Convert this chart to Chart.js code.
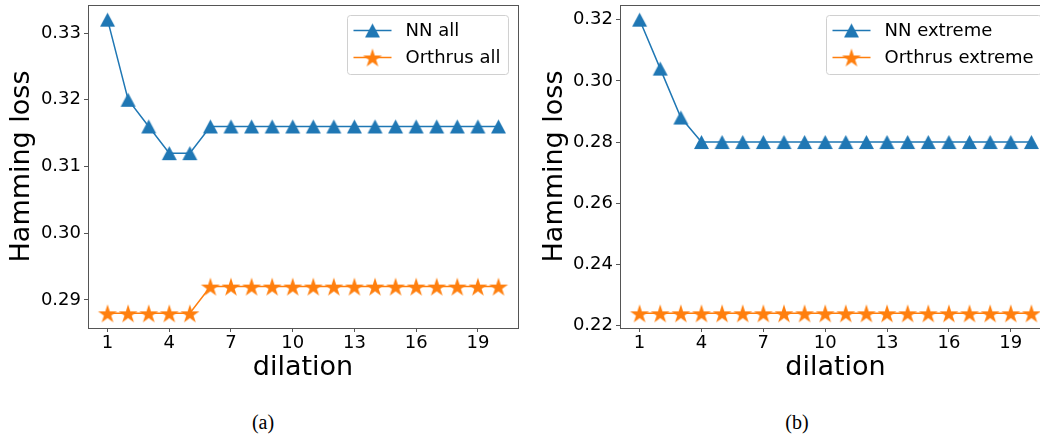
<!DOCTYPE html>
<html>
<head>
<meta charset="utf-8">
<script src="https://cdn.jsdelivr.net/npm/chart.js@4"></script>
<style>
body { margin: 0; background: #fff; width: 1040px; height: 434px; overflow: hidden; position: relative; }
canvas { position: absolute; top: 0; }
#ca { left: 0; }
#cb { left: 520px; }
.cap { position: absolute; top: 410px; width: 60px; text-align: center; font: 20px 'Liberation Serif', serif; line-height: 24px; }
</style>
</head>
<body>
<canvas id="ca" width="520" height="400"></canvas>
<canvas id="cb" width="540" height="400"></canvas>
<div class="cap" style="left:233px">(a)</div>
<div class="cap" style="left:767px">(b)</div>
<script>
var dilation = [1,2,3,4,5,6,7,8,9,10,11,12,13,14,15,16,17,18,19,20];

var nnAll       = [0.332,0.320,0.316,0.312,0.312,0.316,0.316,0.316,0.316,0.316,0.316,0.316,0.316,0.316,0.316,0.316,0.316,0.316,0.316,0.316];
var orthrusAll  = [0.288,0.288,0.288,0.288,0.288,0.292,0.292,0.292,0.292,0.292,0.292,0.292,0.292,0.292,0.292,0.292,0.292,0.292,0.292,0.292];
var nnExt       = [0.320,0.304,0.288,0.280,0.280,0.280,0.280,0.280,0.280,0.280,0.280,0.280,0.280,0.280,0.280,0.280,0.280,0.280,0.280,0.280];
var orthrusExt  = [0.224,0.224,0.224,0.224,0.224,0.224,0.224,0.224,0.224,0.224,0.224,0.224,0.224,0.224,0.224,0.224,0.224,0.224,0.224,0.224];

var xTicks  = [1,4,7,10,13,16,19];
var yTicksA = [0.29,0.30,0.31,0.32,0.33];
var yTicksB = [0.22,0.24,0.26,0.28,0.30,0.32];

var blue = '#1f77b4';
var orange = '#ff7f0e';
var axisColor = '#555';

// marker images (matplotlib-like '^' and '*')
function triImage(color, w, h) {
  var c = document.createElement('canvas');
  c.width = w + 2; c.height = h + 2;
  var g = c.getContext('2d');
  g.beginPath();
  g.moveTo(c.width / 2, 1);
  g.lineTo(c.width - 1, h + 1);
  g.lineTo(1, h + 1);
  g.closePath();
  g.fillStyle = color;
  g.fill();
  return c;
}
function starImage(color, R) {
  var s = Math.ceil(R * 2 + 2);
  var c = document.createElement('canvas');
  c.width = s; c.height = s;
  var g = c.getContext('2d');
  g.beginPath();
  for (var i = 0; i < 10; i++) {
    var r = i % 2 ? R * 0.382 : R;
    var ang = -Math.PI / 2 + i * Math.PI / 5;
    g.lineTo(s / 2 + r * Math.cos(ang), s / 2 + 1 + r * Math.sin(ang));
  }
  g.closePath();
  g.fillStyle = color;
  g.fill();
  return c;
}
var triMark = triImage(blue, 15, 14);
var starMark = starImage(orange, 10);

function pts(ys) {
  return dilation.map(function (x, i) { return { x: x, y: ys[i] }; });
}

var frame = {
  id: 'frame',
  afterDatasetsDraw: function (chart) {
    var a = chart.chartArea, ctx = chart.ctx;
    ctx.save();
    ctx.strokeStyle = axisColor;
    ctx.lineWidth = 1;
    ctx.strokeRect(Math.round(a.left) + 0.5, Math.round(a.top) + 0.5, Math.round(a.right - a.left), Math.round(a.bottom - a.top));
    ctx.restore();
  }
};

var legendBox = {
  id: 'legendBox',
  afterDraw: function (chart) {
    var ctx = chart.ctx, a = chart.chartArea;
    var sets = chart.data.datasets;
    ctx.save();
    ctx.font = "18px 'DejaVu Sans'";
    var tw = 0;
    sets.forEach(function (d) { tw = Math.max(tw, ctx.measureText(d.label).width); });
    var w = 58 + tw + 8, h = 59;
    var x0 = Math.round(a.right - 10 - w) + 0.5, y0 = Math.round(a.top + 10) + 0.5;
    ctx.beginPath();
    ctx.roundRect(x0, y0, w, h, 3);
    ctx.fillStyle = 'rgba(255,255,255,0.8)';
    ctx.fill();
    ctx.strokeStyle = '#d0d0d0';
    ctx.lineWidth = 1;
    ctx.stroke();
    sets.forEach(function (d, i) {
      var cy = y0 + 15 + i * 27;
      ctx.beginPath();
      ctx.moveTo(x0 + 6, cy);
      ctx.lineTo(x0 + 44, cy);
      ctx.strokeStyle = d.borderColor;
      ctx.lineWidth = 1.5;
      ctx.stroke();
      var img = d.pointStyle;
      ctx.drawImage(img, x0 + 25 - img.width / 2, cy - img.height / 2);
      ctx.fillStyle = '#000';
      ctx.textBaseline = 'middle';
      ctx.fillText(d.label, x0 + 58, cy + 1);
    });
    ctx.restore();
  }
};

function makeChart(id, names, series, yMin, yMax, yTicks, yWidth, titlePad, padRight) {
  var marks = [triMark, starMark];
  var colors = [blue, orange];
  return new Chart(document.getElementById(id), {
    type: 'line',
    data: {
      datasets: series.map(function (s, i) {
        return {
          label: names[i],
          data: pts(s),
          borderColor: colors[i],
          backgroundColor: colors[i],
          borderWidth: 1.5,
          pointStyle: marks[i],
          pointRadius: 8,
          tension: 0,
          clip: false
        };
      })
    },
    options: {
      responsive: false,
      animation: false,
      devicePixelRatio: 1,
      events: [],
      layout: { autoPadding: false, padding: { top: 5, right: padRight, bottom: 0, left: 0 } },
      plugins: { legend: { display: false }, tooltip: { enabled: false } },
      scales: {
        x: {
          type: 'linear',
          min: 0.05,
          max: 20.95,
          afterBuildTicks: function (s) { s.ticks = xTicks.map(function (v) { return { value: v }; }); },
          afterFit: function (s) { s.height = 72; s.paddingLeft = 0; s.paddingRight = 0; },
          grid: { drawOnChartArea: false, drawTicks: true, tickLength: 4, color: axisColor, tickColor: axisColor },
          border: { display: false },
          ticks: { color: '#000', padding: 1, maxRotation: 0, autoSkip: false, font: { family: 'DejaVu Sans', size: 18 } },
          title: { display: true, text: 'dilation', color: '#000', padding: { top: 0, bottom: 16 }, font: { family: 'DejaVu Sans', size: 27 } }
        },
        y: {
          min: yMin,
          max: yMax,
          afterBuildTicks: function (s) { s.ticks = yTicks.map(function (v) { return { value: v }; }); },
          afterFit: function (s) { s.width = yWidth; s.paddingTop = 0; s.paddingBottom = 0; },
          grid: { drawOnChartArea: false, drawTicks: true, tickLength: 4, color: axisColor, tickColor: axisColor },
          border: { display: false },
          ticks: {
            color: '#000', padding: 3, autoSkip: false,
            font: { family: 'DejaVu Sans', size: 18 },
            callback: function (v) { return v.toFixed(2); }
          },
          title: { display: true, text: 'Hamming loss', color: '#000', padding: { top: titlePad, bottom: 0 }, font: { family: 'DejaVu Sans', size: 27 } }
        }
      }
    },
    plugins: [frame, legendBox]
  });
}

makeChart('ca', ['NN all', 'Orthrus all'], [nnAll, orthrusAll], 0.2858, 0.3342, yTicksA, 88, 6, 2);
makeChart('cb', ['NN extreme', 'Orthrus extreme'], [nnExt, orthrusExt], 0.2192, 0.3248, yTicksB, 100, 19, 9);
</script>
</body>
</html>
